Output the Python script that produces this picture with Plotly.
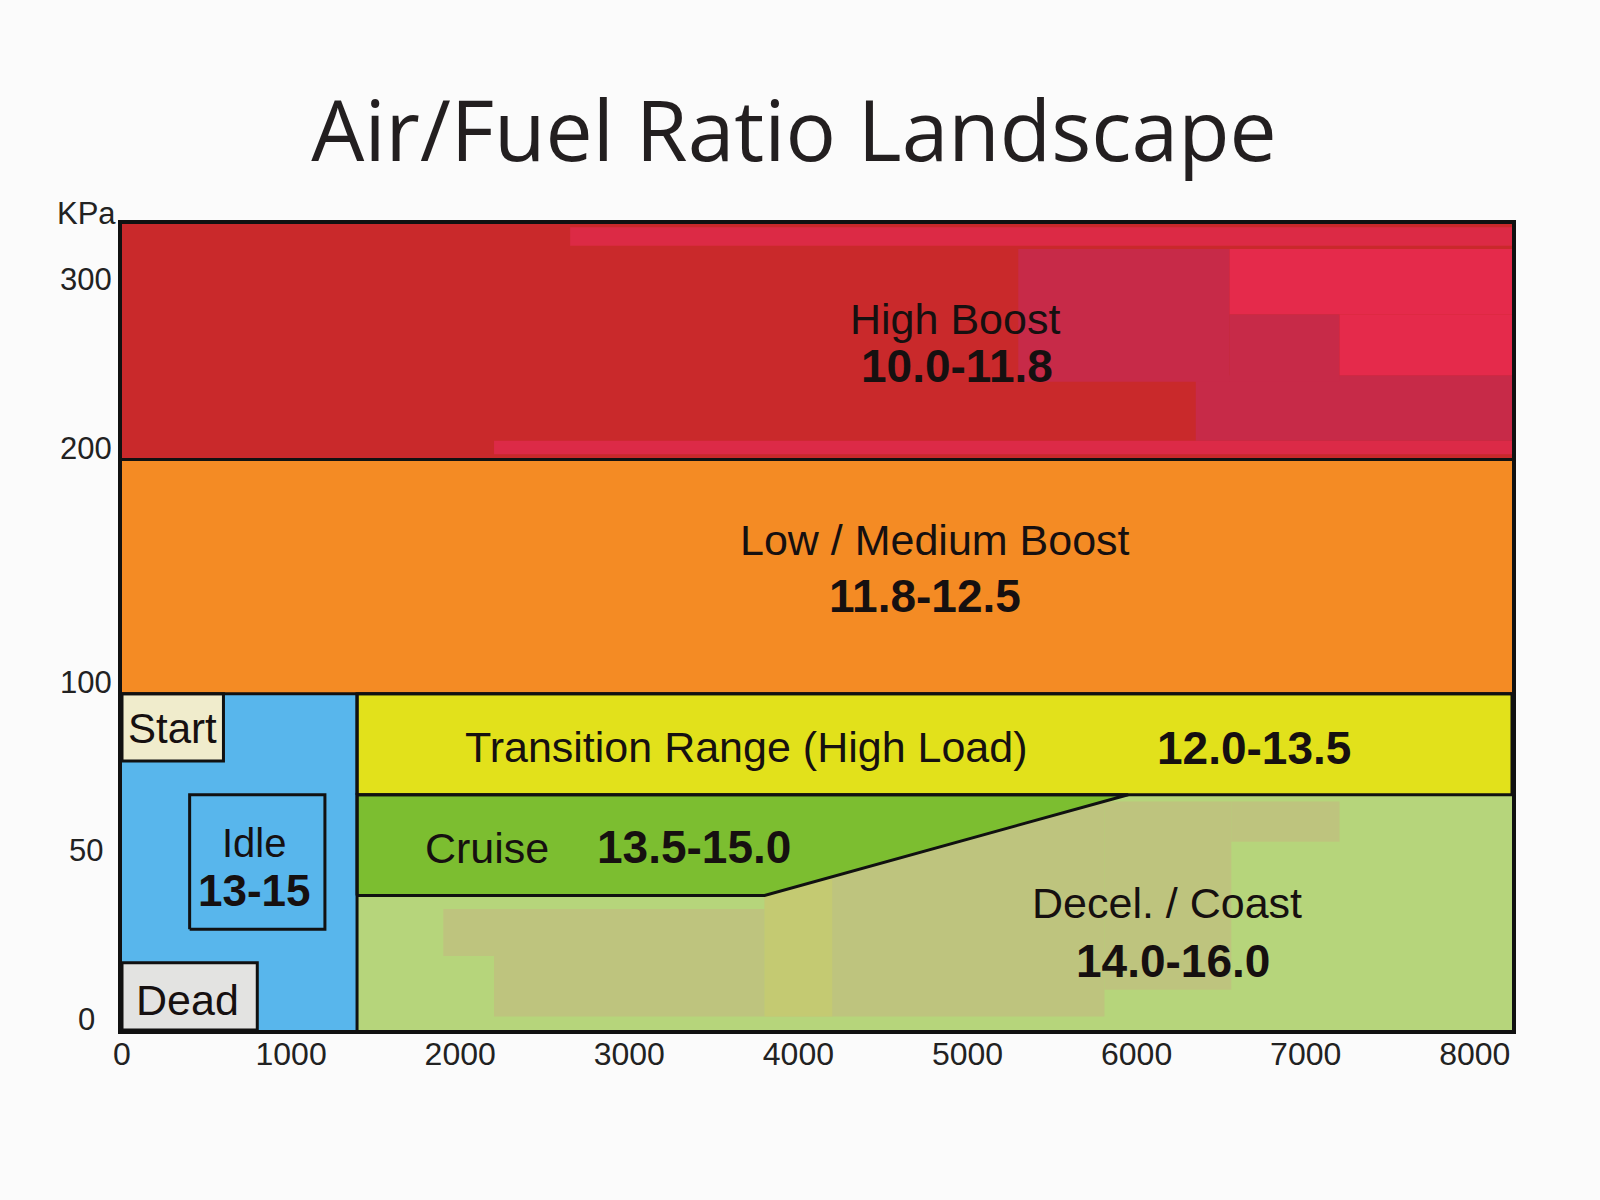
import numpy as np
import plotly.graph_objects as go

# the chart's kPa scale is not linear: 0-100 gets more room than 100-200 and 200-300
KPA_KNOTS = [0, 100, 200, 300, 340]
POS_KNOTS = [0, 337, 572, 741, 808]
RPM_MAX = 8220
KPA_MAX = 340

rpm_ticks = [0, 1000, 2000, 3000, 4000, 5000, 6000, 7000, 8000]
kpa_ticks = [0, 50, 100, 200, 300]
kpa_tick_text = ["0", "50", "100", "200", "300"]

# zone boundaries, rpm / kPa
idle_rpm_edge = 1390
high_boost_kpa = [200, KPA_MAX]
low_boost_kpa = [100, 200]
transition_kpa = [70, 100]
cruise_low_kpa = 40
cruise_ramp_rpm = [3800, 5950]
start_box = [0, 600, 80, 100]     # rpm from, rpm to, kPa from, kPa to
idle_box = [400, 1200, 30, 70]
dead_box = [0, 800, 0, 20]

# colour blotches in the original artwork (rpm from, rpm to, kPa from, kPa to)
boost_blotches = [(2650, 8220, 327, 338), (2200, 8220, 203, 211), (6350, 8220, 211, 250),
                  (5300, 6550, 246, 325), (6550, 8220, 286, 325), (6550, 7200, 246, 286),
                  (7200, 8220, 250, 286)]
boost_blotch_colors = ["#DC2A45", "#DC2A47", "#C72A48", "#C72A48", "#E52A4B", "#C72A48", "#E52A4B"]
coast_blotches = [(1900, 3800, 22, 36), (2200, 3800, 4, 22), (3800, 5810, 4, 70),
                  (5810, 6560, 12, 68), (6560, 7200, 56, 68), (3800, 4200, 4, 45)]
coast_blotch_colors = ["#BEC47E", "#BEC47E", "#BEC47E", "#BEC47E", "#BEC47E", "#C4CA72"]

zone_text = ["High Boost", "10.0-11.8", "Low / Medium Boost", "11.8-12.5",
             "Transition Range (High Load)", "12.0-13.5", "Cruise", "13.5-15.0",
             "Decel. / Coast", "14.0-16.0", "Start", "Idle", "13-15", "Dead"]
zone_rpm = [4926, 4938, 4808, 4749, 3696, 6695, 2159, 3383, 6180, 6216, 296, 781, 781, 390]
zone_kpa = [283.4, 255.6, 165.5, 141.7, 84.3, 84.0, 54.0, 54.3, 37.7, 20.5, 89.6, 55.6, 41.6, 8.9]
zone_bold = [False, True, False, True, False, True, False, True, False, True, False, False, True, False]
zone_size = [43, 46, 43, 46, 43, 46, 43, 46, 43, 46, 42, 40, 44, 43]


def ky(kpa):
    return np.interp(kpa, KPA_KNOTS, POS_KNOTS)


def rect(r0, r1, k0, k1):
    return [r0, r1, r1, r0, r0], list(ky([k0, k0, k1, k1, k0]))


fig = go.Figure()


def fill(xs, ys, color):
    fig.add_trace(go.Scatter(x=xs, y=ys, mode="lines", fill="toself", fillcolor=color,
                             line=dict(width=0, color=color), hoverinfo="skip", showlegend=False))


def outline(xs, ys):
    fig.add_trace(go.Scatter(x=xs, y=ys, mode="lines", line=dict(width=3, color="#111111"),
                             hoverinfo="skip", showlegend=False))


cruise_x = [idle_rpm_edge, cruise_ramp_rpm[0], cruise_ramp_rpm[1], idle_rpm_edge, idle_rpm_edge]
cruise_y = list(ky([cruise_low_kpa, cruise_low_kpa, transition_kpa[0], transition_kpa[0], cruise_low_kpa]))

zones = [
    (rect(0, RPM_MAX, *high_boost_kpa), "#C9292B"),
    (rect(0, RPM_MAX, *low_boost_kpa), "#F48B24"),
    (rect(0, idle_rpm_edge, 0, 100), "#58B6EC"),
    (rect(idle_rpm_edge, RPM_MAX, 0, transition_kpa[0]), "#B6D57B"),
]
for (xs, ys), c in zones:
    fill(xs, ys, c)
for (r0, r1, k0, k1), c in zip(boost_blotches, boost_blotch_colors):
    fill(*rect(r0, r1, k0, k1), c)
for (r0, r1, k0, k1), c in zip(coast_blotches, coast_blotch_colors):
    fill(*rect(r0, r1, k0, k1), c)

fill(cruise_x, cruise_y, "#7CBE30")
fill(*rect(idle_rpm_edge, RPM_MAX, *transition_kpa), "#E2E11B")
fill(*rect(*start_box), "#F0ECCC")
fill(*rect(*idle_box), "#58B6EC")
fill(*rect(*dead_box), "#E3E3E1")

# black borders on top of the fills
outline(*rect(0, RPM_MAX, 200, 200))
outline(*rect(0, RPM_MAX, 100, 100))
outline(*rect(idle_rpm_edge, idle_rpm_edge, 0, 100))
outline(*rect(idle_rpm_edge, RPM_MAX, *transition_kpa))
outline(cruise_x, cruise_y)
outline(*rect(*start_box))
outline(*rect(*idle_box))
outline(*rect(*dead_box))

for t, r, k, b, s in zip(zone_text, zone_rpm, zone_kpa, zone_bold, zone_size):
    fig.add_annotation(x=r, y=float(ky(k)), text=f"<b>{t}</b>" if b else t, showarrow=False,
                       xanchor="center", yanchor="middle",
                       font=dict(family="Liberation Sans, Arial", size=s, color="#161010"))

# kPa labels sit just above their grid value, like the original
for v, t in zip(kpa_ticks + [KPA_MAX], kpa_tick_text + ["KPa"]):
    fig.add_annotation(xref="paper", x=0, xshift=-36, y=float(ky(v)), yshift=11, text=t,
                       showarrow=False, xanchor="center", yanchor="middle",
                       font=dict(family="Liberation Sans, Arial", size=31, color="#222222"))

fig.update_layout(
    width=1600, height=1200,
    margin=dict(l=122, r=88, t=224, b=170),
    paper_bgcolor="#FBFBFB", plot_bgcolor="#FFFFFF",
    title=dict(text="Air/Fuel Ratio Landscape", x=794 / 1600, xref="container", xanchor="center",
               y=1 - 132 / 1200, yref="container", yanchor="middle",
               font=dict(family="Open Sans", size=84, color="#231F20")),
    xaxis=dict(range=[0, RPM_MAX], tickvals=rpm_ticks, ticktext=[str(v) for v in rpm_ticks],
               showgrid=False, zeroline=False, showline=True, mirror=True, linecolor="#111111",
               linewidth=4, ticks="", ticklabelstandoff=-7,
               tickfont=dict(family="Liberation Sans, Arial", size=32, color="#222222")),
    yaxis=dict(range=[0, POS_KNOTS[-1]], showticklabels=False, showgrid=False, zeroline=False,
               showline=True, mirror=True, linecolor="#111111", linewidth=4, ticks=""),
)

# drop the page's default body margin so the figure sits at the window's top-left corner
fig.write_html("out.html", config={"displayModeBar": False},
               post_script="document.body.style.margin='0';"
                           "document.body.style.background='#FBFBFB';")
